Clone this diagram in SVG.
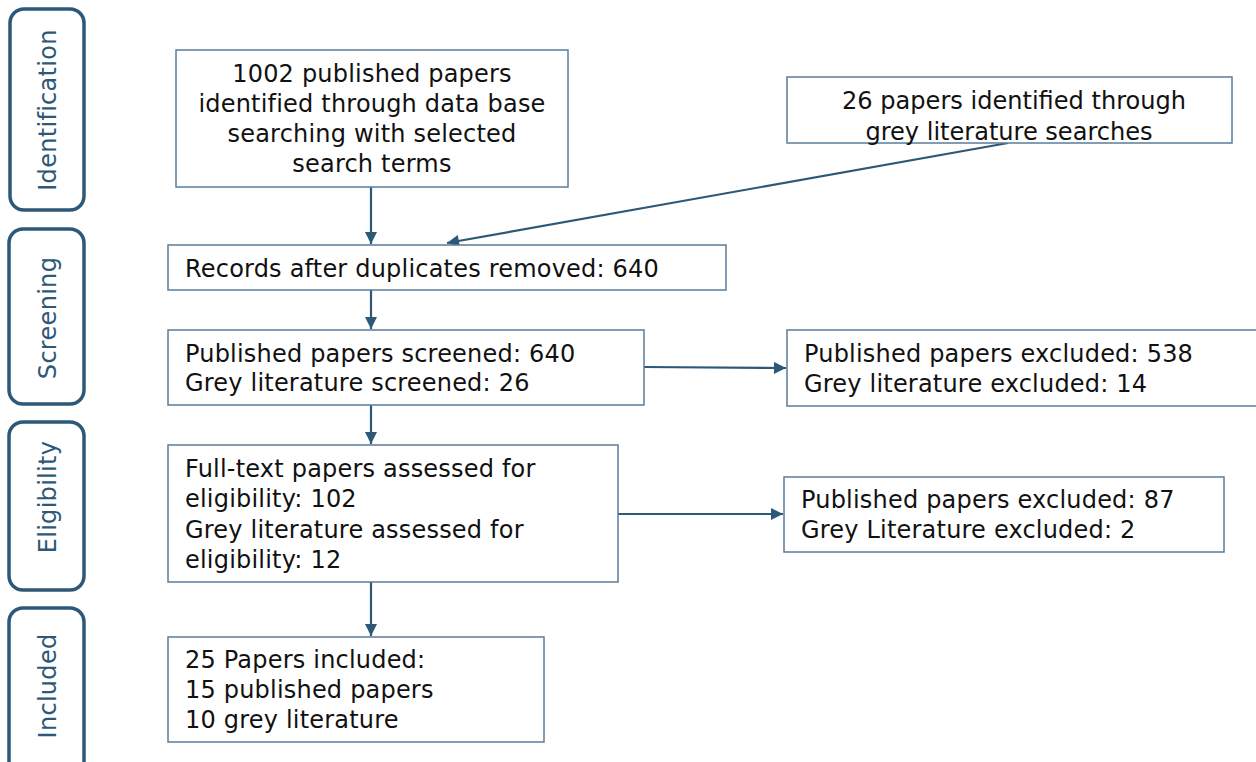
<svg xmlns="http://www.w3.org/2000/svg" width="1256" height="762" viewBox="0 0 1256 762">
<style>
.stage{fill:#fff;stroke:#2D5878;stroke-width:3.5}
.stxt{font-family:"DejaVu Sans",Verdana,sans-serif;font-size:24px;letter-spacing:0.3px;fill:#2D5878;text-anchor:middle;dominant-baseline:central}
.box{fill:#fff;stroke:#5B7C98;stroke-width:1.5}
.t{font-family:"DejaVu Sans",Verdana,sans-serif;font-size:24px;letter-spacing:0.2px;fill:#111}
.tc{text-anchor:middle}
.tn{font-family:"DejaVu Sans Condensed","DejaVu Sans",sans-serif;font-size:24px;fill:#111;text-anchor:middle}
.c{stroke:#2D5878;stroke-width:2.2;fill:none;marker-end:url(#ah)}
</style>
<defs>
<marker id="ah" viewBox="0 0 10 10" refX="10" refY="5" markerWidth="13" markerHeight="12" markerUnits="userSpaceOnUse" orient="auto">
<path d="M0,0 L10,5 L0,10 z" fill="#2D5878"/>
</marker>
</defs>
<rect width="1256" height="762" fill="#fff"/>
<g id="stage-identification"><rect class="stage" x="10" y="9" width="74" height="201" rx="14"/><text class="stxt" transform="translate(48,110) rotate(-90)">Identification</text></g>
<g id="stage-screening"><rect class="stage" x="9" y="229" width="75" height="175" rx="14"/><text class="stxt" transform="translate(48,318) rotate(-90)">Screening</text></g>
<g id="stage-eligibility"><rect class="stage" x="9" y="422" width="75" height="168" rx="14"/><text class="stxt" transform="translate(48,497) rotate(-90)">Eligibility</text></g>
<g id="stage-included"><rect class="stage" x="9" y="608" width="75" height="170" rx="14"/><text class="stxt" transform="translate(48,686) rotate(-90)">Included</text></g>

<g id="connectors">
<line class="c" x1="371" y1="187" x2="371" y2="244"/>
<line class="c" x1="1008" y1="143" x2="447" y2="243"/>
<line class="c" x1="371" y1="290" x2="371" y2="329"/>
<line class="c" x1="371" y1="405" x2="371" y2="444"/>
<line class="c" x1="644" y1="367" x2="786" y2="368"/>
<line class="c" x1="618" y1="514" x2="783" y2="514"/>
<line class="c" x1="371" y1="582" x2="371" y2="636"/>
</g>

<g id="n-published"><rect class="box" x="176" y="50" width="392" height="137"/>
<text class="t tc" x="372" y="82">1002 published papers</text>
<text class="t tc" x="372" y="112">identified through data base</text>
<text class="t tc" x="372" y="142">searching with selected</text>
<text class="t tc" x="372" y="172">search terms</text></g>

<g id="n-grey"><rect class="box" x="787" y="77" width="445" height="66"/>
<text class="tn" x="1014" y="109" textLength="344" lengthAdjust="spacingAndGlyphs">26 papers identified through</text>
<text class="tn" x="1009" y="140" textLength="287" lengthAdjust="spacingAndGlyphs">grey literature searches</text></g>

<g id="n-records"><rect class="box" x="168" y="245" width="558" height="45"/>
<text class="t" x="185" y="277">Records after duplicates removed: 640</text></g>

<g id="n-screened"><rect class="box" x="168" y="330" width="476" height="75"/>
<text class="t" x="185" y="362">Published papers screened: 640</text>
<text class="t" x="185" y="391">Grey literature screened: 26</text></g>

<g id="n-excluded1"><rect class="box" x="787" y="330" width="475" height="76"/>
<text class="t" x="804" y="362">Published papers excluded: 538</text>
<text class="t" x="804" y="392">Grey literature excluded: 14</text></g>

<g id="n-fulltext"><rect class="box" x="168" y="445" width="450" height="137"/>
<text class="t" x="185" y="477">Full-text papers assessed for</text>
<text class="t" x="185" y="507">eligibility: 102</text>
<text class="t" x="185" y="538">Grey literature assessed for</text>
<text class="t" x="185" y="568">eligibility: 12</text></g>

<g id="n-excluded2"><rect class="box" x="784" y="477" width="440" height="75"/>
<text class="t" x="801" y="508">Published papers excluded: 87</text>
<text class="t" x="801" y="538">Grey Literature excluded: 2</text></g>

<g id="n-included"><rect class="box" x="168" y="637" width="376" height="105"/>
<text class="t" x="185" y="668">25 Papers included:</text>
<text class="t" x="185" y="698">15 published papers</text>
<text class="t" x="185" y="728">10 grey literature</text></g>
</svg>
